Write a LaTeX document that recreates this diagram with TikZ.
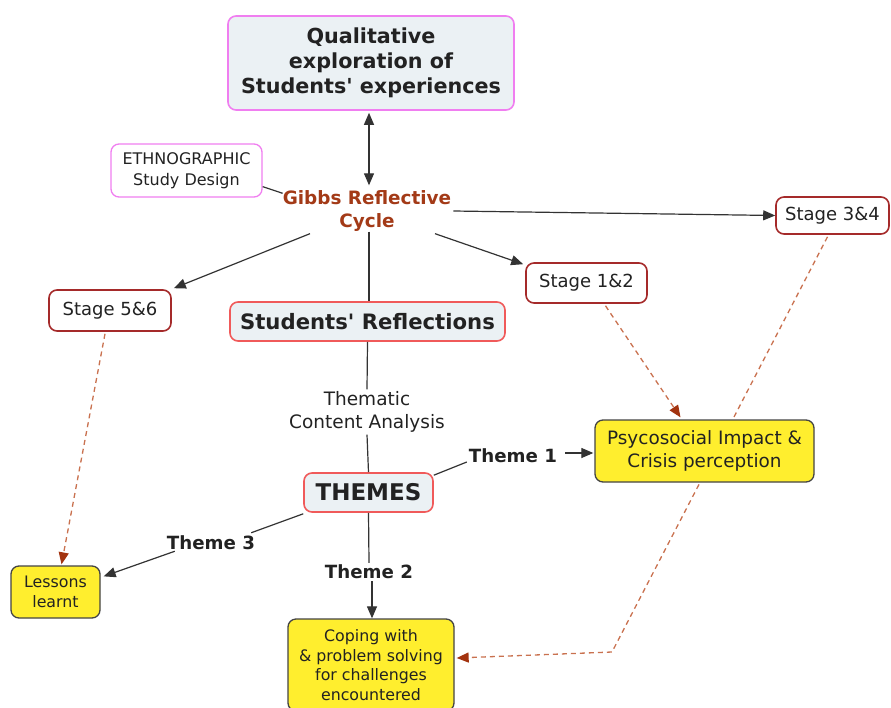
\documentclass[tikz,border=0pt]{standalone}
\usepackage{fontspec}
\setmainfont{DejaVu Sans}
\newfontfamily\aposfont{DejaVu Sans}
\newcommand\apos{{\aposfont'}}
\usetikzlibrary{arrows.meta,calc}
\definecolor{lightc}{HTML}{EBF1F4}
\definecolor{pinkc}{HTML}{F07EF0}
\definecolor{redc}{HTML}{F05A5A}
\definecolor{stagec}{HTML}{A52A2A}
\definecolor{yellowc}{HTML}{FFEE2E}
\definecolor{ybord}{HTML}{444444}
\definecolor{gibbsc}{HTML}{A33A17}
\definecolor{dashc}{HTML}{C9714F}
\definecolor{tipc}{HTML}{A3330F}
\definecolor{linec}{HTML}{333333}
\definecolor{txtc}{HTML}{222222}
\pgfdeclarelayer{bg}
\pgfsetlayers{bg,main}
\begin{document}
\begin{tikzpicture}[x=1pt,y=-1pt,
  box/.style={rounded corners=8pt, line width=1.6pt, align=center, inner sep=0pt, text=txtc},
  bluebox/.style={box, fill=lightc, font=\bfseries\fontsize{20.7}{25}\selectfont},
  stagebox/.style={box, draw=stagec, fill=white, font=\fontsize{18}{22}\selectfont},
  yellowbox/.style={box, draw=ybord, fill=yellowc, line width=1.3pt},
  lbl/.style={align=center, text=txtc, inner sep=2pt},
  themelbl/.style={lbl, font=\bfseries\fontsize{18.2}{22}\selectfont},
  conn/.style={draw=linec, line width=1.2pt},
  arr/.style={conn, -{Triangle[length=12pt,width=10pt]}},
  darr/.style={draw=dashc, line width=1.3pt, dash pattern=on 5pt off 4pt, -{Triangle[length=12pt,width=10pt,color=tipc]}}
]
\useasboundingbox (0,0) rectangle (891,707);

\node[bluebox, draw=pinkc, minimum width=286pt, minimum height=94pt] (top) at (371,63)
  {Qualitative\\exploration of\\Students\apos{} experiences};
\node[box, draw=pinkc, fill=white, line width=1.3pt, minimum width=151pt, minimum height=53pt,
  font=\fontsize{16}{21}\selectfont] (ethno) at (186.5,170.5) {ETHNOGRAPHIC\\Study Design};
\node[lbl, text=gibbsc, font=\bfseries\fontsize{18.4}{23}\selectfont] (gibbs) at (367,211) {Gibbs Reflective\\Cycle};
\node[stagebox, minimum width=113pt, minimum height=37pt] (s34) at (832.5,215.5) {Stage 3\&4};
\node[stagebox, minimum width=121pt, minimum height=40pt] (s12) at (586.5,283) {Stage 1\&2};
\node[stagebox, minimum width=122pt, minimum height=41pt] (s56) at (110,310.5) {Stage 5\&6};
\node[bluebox, draw=redc, minimum width=275pt, minimum height=39pt, font=\bfseries\fontsize{21.2}{25}\selectfont] (refl) at (367.5,321.5) {Students\apos{} Reflections};
\node[lbl, font=\fontsize{18.5}{23}\selectfont] (them) at (367,412) {Thematic\\Content Analysis};
\node[bluebox, draw=redc, minimum width=129pt, minimum height=39pt, font=\bfseries\fontsize{23}{26}\selectfont] (themes) at (368.5,492.5) {THEMES};
\node[themelbl] (t1) at (513,456) {Theme 1};
\node[themelbl] (t3) at (211,543) {Theme 3};
\node[themelbl] (t2) at (369,572) {Theme 2};
\node[yellowbox, minimum width=219pt, minimum height=62pt, font=\fontsize{18.4}{23}\selectfont] (psy) at (704.5,451) {Psycosocial Impact \&\\Crisis perception};
\node[yellowbox, minimum width=89pt, minimum height=52pt, font=\fontsize{15.8}{20}\selectfont] (lessons) at (55.5,592) {Lessons\\learnt};
\node[yellowbox, minimum width=166pt, minimum height=92pt, font=\fontsize{15.8}{19.5}\selectfont] (coping) at (371,665) {Coping with\\\& problem solving\\for challenges\\encountered};

\coordinate (bend) at (612,652);

\begin{pgfonlayer}{bg}
\draw[darr] ($(s12.south)+(19,2)$) -- ($(psy.north)+(-24,-2)$);
\draw[darr] ($(s34.south)+(-5,2)$) -- (bend) -- ($(coping.east)+(2,-7)$);
\draw[darr] ($(s56.south)+(-5,2)$) -- ($(lessons.north)+(6,-1)$);
\end{pgfonlayer}

\draw[conn, {Triangle[length=12pt,width=10pt]}-{Triangle[length=12pt,width=10pt]}] ($(top.south)+(-2,2)$) -- ($(gibbs.north)+(2,-3)$);
\draw[conn] ($(ethno.south east)+(0,-11)$) -- ($(gibbs.north west)+(2,5)$);
\draw[arr] (gibbs.east) -- (s34.west);
\draw[arr] ($(gibbs.south)+(68,0)$) -- ($(s12.north west)+(-2,2)$);
\draw[arr] ($(gibbs.south)+(-57,0)$) -- ($(s56.north east)+(2,-1)$);
\draw[conn] ($(gibbs.south)+(2,-2)$) -- ($(refl.north)+(1.5,0)$);
\draw[conn] (refl.south) -- (them.north);
\draw[conn] (them.south) -- (themes.north);
\draw[conn] ($(themes.north east)+(0,3)$) -- ($(t1.west)+(0,6)$);
\draw[arr] ($(t1.east)+(6,-3)$) -- ($(psy.west)+(-1,2)$);
\draw[conn] ($(themes.south west)+(0,1)$) -- ($(t3.north east)+(-6,-1)$);
\draw[arr] ($(t3.south west)+(10,-1)$) -- ($(lessons.north east)+(3,11)$);
\draw[conn] (themes.south) -- (t2.north);
\draw[arr] ($(t2.south)+(3,0)$) -- ($(coping.north)+(1,0)$);
\end{tikzpicture}
\end{document}
